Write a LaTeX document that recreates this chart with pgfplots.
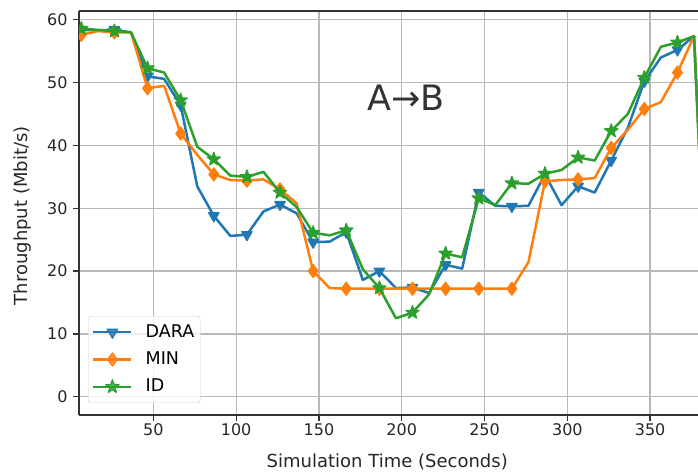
\documentclass[border=0pt]{standalone}
\usepackage{pgfplots}
\pgfplotsset{compat=1.18}
\usepackage{fontspec}
\setmainfont{DejaVu Sans}
\definecolor{tblue}{HTML}{1F77B4}
\definecolor{torange}{HTML}{FF7F0E}
\definecolor{tgreen}{HTML}{2CA02C}
\definecolor{spine}{HTML}{333333}
\pgfdeclareplotmark{fstar}{%
  \pgfpathmoveto{\pgfpointpolar{90}{\pgfplotmarksize}}%
  \pgfpathlineto{\pgfpointpolar{126}{0.4\pgfplotmarksize}}%
  \pgfpathlineto{\pgfpointpolar{162}{\pgfplotmarksize}}%
  \pgfpathlineto{\pgfpointpolar{198}{0.4\pgfplotmarksize}}%
  \pgfpathlineto{\pgfpointpolar{234}{\pgfplotmarksize}}%
  \pgfpathlineto{\pgfpointpolar{270}{0.4\pgfplotmarksize}}%
  \pgfpathlineto{\pgfpointpolar{306}{\pgfplotmarksize}}%
  \pgfpathlineto{\pgfpointpolar{342}{0.4\pgfplotmarksize}}%
  \pgfpathlineto{\pgfpointpolar{18}{\pgfplotmarksize}}%
  \pgfpathlineto{\pgfpointpolar{54}{0.4\pgfplotmarksize}}%
  \pgfpathclose
  \pgfusepathqfillstroke
}
\pgfplotstableread{
x DARA MIN ID
6.5 58.4 57.6 58.6
16.5 58.3 58.2 58.4
26.5 58.4 58.0 58.2
36.5 58.0 58.0 58.0
46.5 51.0 49.1 52.3
56.5 50.6 49.5 51.6
66.5 46.4 41.9 47.2
76.5 33.5 38.5 39.8
86.5 28.8 35.4 37.8
96.5 25.6 34.5 35.2
106.5 25.8 34.4 35.0
116.5 29.5 34.6 35.8
126.5 30.6 33.0 32.5
136.5 29.2 30.8 30.2
146.5 24.6 20.0 26.1
156.5 24.7 17.3 25.7
166.5 26.2 17.2 26.5
176.5 18.6 17.2 20.3
186.5 20.0 17.2 17.3
196.5 17.3 17.2 12.5
206.5 17.4 17.2 13.4
216.5 16.5 17.2 16.3
226.5 21.0 17.2 22.8
236.5 20.4 17.2 22.2
246.5 32.5 17.2 31.6
256.5 30.4 17.2 30.5
266.5 30.3 17.2 34.0
276.5 30.4 21.4 33.9
286.5 35.4 34.3 35.5
296.5 30.5 34.5 36.1
306.5 33.5 34.6 38.1
316.5 32.5 34.8 37.6
326.5 37.6 39.6 42.3
336.5 42.8 42.5 45.0
346.5 50.2 45.8 50.8
356.5 54.0 46.9 55.7
366.5 55.2 51.6 56.4
376.5 57.4 57.4 57.4
386.5 0.0 0.0 0.0
}\datatable
\begin{document}
\begin{tikzpicture}
\begin{axis}[
  name=ax,
  at={(79bp,57bp)}, anchor=south west,
  scale only axis, width=619bp, height=404bp,
  xmin=5.1, xmax=378.9, ymin=-2.9, ymax=61.4,
  xtick={50,100,...,350}, ytick={0,10,...,60},
  axis lines*=left,
  axis line style={spine, line width=1.4bp},
  tick align=outside, major tick length=6bp,
  tick style={spine, line width=1.3bp},
  grid=major, grid style={color=black!28, line width=1.3bp},
  /pgf/number format/assume math mode=true,
  ticklabel style={font=\fontsize{16bp}{19bp}\selectfont, text=black!85},
  xticklabel style={anchor=base, yshift=-14bp},
  yticklabel style={anchor=east, xshift=-2bp},
  xlabel={Simulation Time (Seconds)},
  ylabel={Throughput (Mbit/s)},
  label style={font=\fontsize{18bp}{21bp}\selectfont, text=black!85},
  x label style={at={(axis description cs:0.498,-0.131)}, anchor=base},
  y label style={at={(axis description cs:-0.092,0.493)}, anchor=center},
  clip marker paths=true,
  legend cell align=left,
  legend style={at={(axis description cs:0,0)}, anchor=south west,
    xshift=9bp, yshift=12bp, draw=black!20, rounded corners=3bp,
    fill=white, fill opacity=0.8, text opacity=1,
    font=\fontsize{17.5bp}{21bp}\selectfont, inner xsep=4bp, inner ysep=6bp,
    row sep=7.3bp,
    /tikz/every odd column/.append style={column sep=11bp},
    nodes={inner sep=2bp, text height=13bp, text depth=3bp}},
  legend image code/.code={\draw[mark repeat=2,mark phase=2,#1] plot coordinates {(0bp,0bp) (19bp,0bp) (38bp,0bp)};},
  every axis plot/.append style={line width=2.5bp, line join=round},
]
\addplot[color=tblue, mark=triangle*, mark repeat=2, mark phase=1,
  mark options={rotate=180, line width=1.2bp, fill=tblue, mark size=6bp}]
  table[x=x, y=DARA] {\datatable};
\addlegendentry{DARA}
\addplot[color=torange, mark=diamond*, mark repeat=2, mark phase=1,
  mark options={line width=1.2bp, fill=torange, mark size=6.5bp}]
  table[x=x, y=MIN] {\datatable};
\addlegendentry{MIN}
\addplot[color=tgreen, mark=fstar, mark repeat=2, mark phase=1,
  mark options={line width=1.2bp, fill=tgreen, mark size=7bp}]
  table[x=x, y=ID] {\datatable};
\addlegendentry{ID}
\node[anchor=base, inner sep=0pt, text=black!80, font=\fontsize{35bp}{40bp}\selectfont] at (axis cs:202.5,45.6) {A→B};
\end{axis}
\draw[spine, line width=1.4bp] (ax.north west) -- (ax.north east);
\pgfresetboundingbox
\path (0,0) rectangle (698bp,472bp);
\end{tikzpicture}
\end{document}
